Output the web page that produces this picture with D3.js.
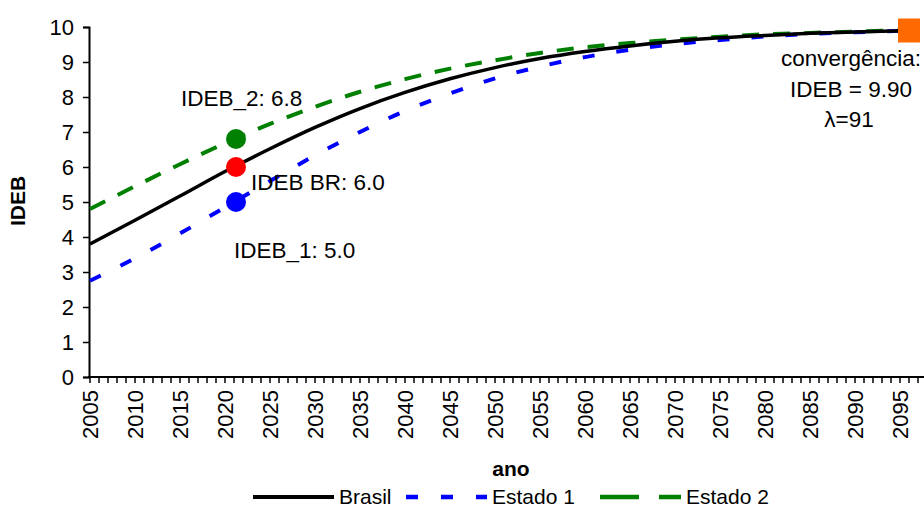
<!DOCTYPE html>
<html>
<head>
<meta charset="utf-8">
<script src="https://cdn.jsdelivr.net/npm/d3@7"></script>
<style>
  html, body { margin: 0; padding: 0; background: #fff; }
  svg { display: block; font-family: "Liberation Sans", Arial, sans-serif; }
</style>
</head>
<body>
<svg id="chart"></svg>
<script>
const width = 924;
const height = 509;

// anos (eixo x) e valores
const years = [2005, 2010, 2015, 2020, 2025, 2030, 2035, 2040, 2045, 2050,
               2055, 2060, 2065, 2070, 2075, 2080, 2085, 2090, 2095, 2096];
const brasil = [3.80, 4.48, 5.17, 5.87, 6.52, 7.13, 7.67, 8.13, 8.52, 8.84,
                9.10, 9.30, 9.46, 9.59, 9.69, 9.76, 9.82, 9.86, 9.89, 9.90];
const estado1 = [2.75, 3.39, 4.10, 4.85, 5.60, 6.33, 7.00, 7.60, 8.10, 8.53,
                 8.87, 9.14, 9.35, 9.51, 9.63, 9.73, 9.80, 9.85, 9.89, 9.90];
const estado2 = [4.80, 5.45, 6.08, 6.68, 7.23, 7.72, 8.15, 8.51, 8.81, 9.05,
                 9.26, 9.42, 9.54, 9.64, 9.72, 9.79, 9.83, 9.87, 9.90, 9.90];

const yTicks = [0, 1, 2, 3, 4, 5, 6, 7, 8, 9, 10];
const xLabels = [2005, 2010, 2015, 2020, 2025, 2030, 2035, 2040, 2045, 2050,
                 2055, 2060, 2065, 2070, 2075, 2080, 2085, 2090, 2095];

// pontos marcados em 2021 e convergência
const markYear = 2021;
const markValues = [6.8, 6.0, 5.0];
const markColors = ['#008000', '#ff0000', '#0000ff'];
const convYear = 2096;
const convValue = 9.90;

const series = [
    { name: 'Brasil', values: brasil, color: '#000', width: 3.5, dash: null, legendDash: null },
    { name: 'Estado 1', values: estado1, color: '#0000ff', width: 4, dash: '12,22', legendDash: '12,23' },
    { name: 'Estado 2', values: estado2, color: '#008000', width: 4, dash: '17,14', legendDash: '39,20' }
];

const svg = d3.select('#chart')
    .attr('width', width)
    .attr('height', height);

const x = d3.scaleLinear().domain([2005, 2095]).range([90, 900]);
const y = d3.scaleLinear().domain([0, 10]).range([377, 27]);

// eixo y
const yAxis = d3.axisLeft(y).tickValues(yTicks).tickSize(6).tickFormat(d3.format('d'));
const gy = svg.append('g')
    .attr('transform', 'translate(89,0)')
    .call(yAxis);
gy.select('.domain').attr('stroke', '#000').attr('stroke-width', 2);
gy.selectAll('.tick line').attr('stroke', '#000').attr('stroke-width', 1.5);
gy.selectAll('.tick text')
    .attr('x', -15)
    .attr('fill', '#000')
    .style('font-size', '22px')
    .style('font-family', '"Liberation Sans", Arial, sans-serif');

// eixo x: um tick por ano, rótulo a cada 5
svg.append('line')
    .attr('x1', 88).attr('x2', width)
    .attr('y1', y(0)).attr('y2', y(0))
    .attr('stroke', '#000').attr('stroke-width', 2);

svg.append('g')
    .selectAll('line')
    .data(d3.range(2005, 2099))
    .enter().append('line')
    .attr('x1', d => x(d)).attr('x2', d => x(d))
    .attr('y1', y(0)).attr('y2', y(0) + 6)
    .attr('stroke', '#000').attr('stroke-width', 1.5);

svg.append('g')
    .selectAll('text')
    .data(xLabels)
    .enter().append('text')
    .attr('transform', d => `translate(${x(d) + 8}, 390) rotate(-90)`)
    .attr('text-anchor', 'end')
    .style('font-size', '22px')
    .text(d => d);

// títulos dos eixos
svg.append('text')
    .attr('x', 511).attr('y', 476)
    .attr('text-anchor', 'middle')
    .style('font-size', '21px').style('font-weight', 'bold')
    .text('ano');

svg.append('text')
    .attr('transform', 'translate(25, 201) rotate(-90)')
    .attr('text-anchor', 'middle')
    .style('font-size', '21px').style('font-weight', 'bold')
    .text('IDEB');

// linhas
const line = d3.line()
    .x((d, i) => x(years[i]))
    .y(d => y(d))
    .curve(d3.curveMonotoneX);

svg.append('g')
    .selectAll('path')
    .data(series.slice().reverse())
    .enter().append('path')
    .attr('d', d => line(d.values))
    .attr('fill', 'none')
    .attr('stroke', d => d.color)
    .attr('stroke-width', d => d.width)
    .attr('stroke-dasharray', d => d.dash);

// pontos de 2021
svg.append('g')
    .selectAll('circle')
    .data(markValues)
    .enter().append('circle')
    .attr('cx', x(markYear) + 2)
    .attr('cy', d => y(d))
    .attr('r', 10)
    .attr('fill', (d, i) => markColors[i]);

// convergência
svg.append('rect')
    .attr('x', x(convYear) - 11)
    .attr('y', y(convValue) - 12)
    .attr('width', 22).attr('height', 24)
    .attr('fill', '#ff6a00');

// anotações
const notes = [
    { t: 'IDEB_2: 6.8', x: 181, y: 106, a: 'start' },
    { t: 'IDEB BR: 6.0', x: 251, y: 190, a: 'start' },
    { t: 'IDEB_1: 5.0', x: 234, y: 258, a: 'start' },
    { t: 'convergência:', x: 851, y: 66, a: 'middle' },
    { t: 'IDEB = 9.90', x: 851, y: 97, a: 'middle' },
    { t: 'λ=91', x: 849, y: 127, a: 'middle' }
];
svg.append('g')
    .selectAll('text')
    .data(notes)
    .enter().append('text')
    .attr('x', d => d.x).attr('y', d => d.y)
    .attr('text-anchor', d => d.a)
    .style('font-size', '22.5px')
    .text(d => d.t);

// legenda
const legendX = [253, 406, 600];
const legend = svg.append('g')
    .selectAll('g')
    .data(series)
    .enter().append('g')
    .attr('transform', (d, i) => `translate(${legendX[i]}, 497)`);

legend.append('line')
    .attr('x1', 0).attr('x2', 81)
    .attr('stroke', d => d.color)
    .attr('stroke-width', d => d.width + 0.5)
    .attr('stroke-dasharray', d => d.legendDash);

legend.append('text')
    .attr('x', 86).attr('y', 7)
    .style('font-size', '21px')
    .text(d => d.name);
</script>
</body>
</html>
